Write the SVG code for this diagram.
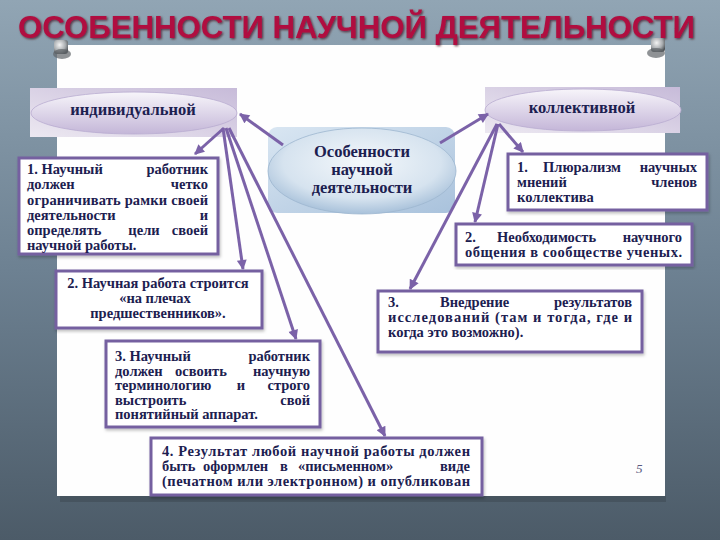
<svg xmlns="http://www.w3.org/2000/svg" width="720" height="540" viewBox="0 0 720 540">
<defs>
<linearGradient id="bg" x1="0" y1="0" x2="0" y2="1">
<stop offset="0" stop-color="#91a5b4"/>
<stop offset="0.5" stop-color="#6d8192"/>
<stop offset="1" stop-color="#4c5b68"/>
</linearGradient>
<linearGradient id="lavRect" x1="0" y1="1" x2="1" y2="0">
<stop offset="0" stop-color="#ece8f1"/>
<stop offset="1" stop-color="#c7bbd9"/>
</linearGradient>
<linearGradient id="lavEll" x1="0" y1="0" x2="0" y2="1">
<stop offset="0" stop-color="#f7f5fa"/>
<stop offset="1" stop-color="#c4b6d8"/>
</linearGradient>
<linearGradient id="blueRect" x1="0" y1="0" x2="1" y2="1">
<stop offset="0" stop-color="#d9e6f2"/>
<stop offset="1" stop-color="#a9c2dc"/>
</linearGradient>
<radialGradient id="blueEll" cx="0.5" cy="0.4" r="0.6">
<stop offset="0" stop-color="#f4f8fb"/>
<stop offset="0.7" stop-color="#d6e3ef"/>
<stop offset="1" stop-color="#a8c1da"/>
</radialGradient>
<radialGradient id="pin" cx="0.4" cy="0.35" r="0.7">
<stop offset="0" stop-color="#f4f4f4"/>
<stop offset="0.6" stop-color="#a9adb0"/>
<stop offset="1" stop-color="#4f5458"/>
</radialGradient>
<marker id="ah" viewBox="0 0 10 10" refX="9" refY="5" markerWidth="11" markerHeight="10" markerUnits="userSpaceOnUse" orient="auto">
<path d="M0,0 L10,5 L0,10 z" fill="#7b62a8"/>
</marker>
<filter id="sh" x="-5%" y="-5%" width="110%" height="115%">
<feDropShadow dx="1" dy="2" stdDeviation="1.5" flood-color="#000" flood-opacity="0.25"/>
</filter>
<filter id="tsh" x="-2%" y="-20%" width="104%" height="150%">
<feDropShadow dx="1.2" dy="1.2" stdDeviation="0.8" flood-color="#3a0612" flood-opacity="0.7"/>
</filter>
</defs>
<style>
.box{fill:#fff;stroke:#7560a0;stroke-width:3}
.bt{font-family:"Liberation Serif","Times New Roman",serif;font-size:14.5px;font-weight:bold;fill:#1c2050}
.ht{font-family:"Liberation Serif","Times New Roman",serif;font-size:16.5px;font-weight:bold;fill:#1c2050}
.con line{stroke:#7b62a8;stroke-width:3;marker-end:url(#ah)}
.e{text-anchor:end}
.m{text-anchor:middle}
</style>
<rect x="0" y="0" width="720" height="540" fill="url(#bg)"/>
<rect x="60" y="496" width="606" height="6" fill="#3f4b55" opacity="0.6"/>
<rect x="57" y="45" width="608" height="451" fill="#fefefe"/>
<g id="title">
<text x="18" y="38" font-family="Liberation Sans,Arial,sans-serif" font-size="32" font-weight="bold" fill="#b0103f" textLength="677" lengthAdjust="spacingAndGlyphs" filter="url(#tsh)">ОСОБЕННОСТИ НАУЧНОЙ ДЕЯТЕЛЬНОСТИ</text>
</g>
<g id="pins">
<rect x="54" y="40" width="14" height="14" rx="3" fill="url(#pin)"/>
<ellipse cx="62" cy="54" rx="9" ry="5" fill="#5f6468" opacity="0.7"/>
<rect x="651" y="38" width="14" height="14" rx="3" fill="url(#pin)"/>
<ellipse cx="656" cy="53" rx="9" ry="5" fill="#5f6468" opacity="0.7"/>
</g>
<g id="individual">
<rect x="30" y="88" width="207" height="49" fill="url(#lavRect)"/>
<ellipse cx="134" cy="113" rx="103" ry="21" fill="url(#lavEll)" stroke="#b9acd0" stroke-width="0.8"/>
<text class="ht m" x="133" y="115">индивидуальной</text>
</g>
<g id="collective">
<rect x="485" y="87" width="195" height="46" fill="url(#lavRect)"/>
<ellipse cx="583" cy="110" rx="98" ry="21" fill="url(#lavEll)" stroke="#b9acd0" stroke-width="0.8"/>
<text class="ht m" x="582" y="113">коллективной</text>
</g>
<g id="center">
<rect x="268" y="127" width="187" height="86" rx="9" fill="url(#blueRect)"/>
<ellipse cx="362" cy="171" rx="94" ry="43" fill="url(#blueEll)" stroke="#9db6cf" stroke-width="0.8"/>
<text class="ht m" x="362" y="157">Особенности</text>
<text class="ht m" x="362" y="175">научной</text>
<text class="ht m" x="362" y="193">деятельности</text>
</g>
<g id="l1" filter="url(#sh)">
<rect class="box" x="19" y="158" width="199" height="96"/>
</g>
<g id="l1t">
<text class="bt"><tspan x="27" y="174">1. Научный</tspan><tspan class="e" x="208" y="174">работник</tspan></text>
<text class="bt"><tspan x="27" y="189">должен</tspan><tspan class="e" x="208" y="189">четко</tspan></text>
<text class="bt" x="27" y="204.5" textLength="181" lengthAdjust="spacing">ограничивать рамки своей</text>
<text class="bt"><tspan x="27" y="220">деятельности</tspan><tspan class="e" x="208" y="220">и</tspan></text>
<text class="bt"><tspan x="27" y="235">определять</tspan><tspan class="m" x="144" y="235">цели</tspan><tspan class="e" x="208" y="235">своей</tspan></text>
<text class="bt" x="27" y="250">научной работы.</text>
</g>
<g id="l2" filter="url(#sh)">
<rect class="box" x="56" y="271" width="206" height="57"/>
</g>
<g id="l2t">
<text class="bt m" x="158" y="288">2. Научная работа строится</text>
<text class="bt m" x="155" y="303">«на плечах</text>
<text class="bt m" x="158" y="318">предшественников».</text>
</g>
<g id="l3" filter="url(#sh)">
<rect class="box" x="106" y="341" width="214" height="86"/>
</g>
<g id="l3t">
<text class="bt"><tspan x="115" y="361">3. Научный</tspan><tspan class="e" x="310" y="361">работник</tspan></text>
<text class="bt"><tspan x="115" y="375.5">должен</tspan><tspan class="m" x="201" y="375.5">освоить</tspan><tspan class="e" x="310" y="375.5">научную</tspan></text>
<text class="bt"><tspan x="115" y="390">терминологию</tspan><tspan class="m" x="241" y="390">и</tspan><tspan class="e" x="310" y="390">строго</tspan></text>
<text class="bt"><tspan x="115" y="404.5">выстроить</tspan><tspan class="e" x="310" y="404.5">свой</tspan></text>
<text class="bt" x="115" y="419">понятийный аппарат.</text>
</g>
<g id="l4" filter="url(#sh)">
<rect class="box" x="151" y="438" width="331" height="57"/>
</g>
<g id="l4t">
<text class="bt" x="162" y="456" textLength="308" lengthAdjust="spacing">4. Результат любой научной работы должен</text>
<text class="bt"><tspan x="162" y="471">быть</tspan><tspan x="203" y="471">оформлен</tspan><tspan class="m" x="284" y="471">в</tspan><tspan x="298" y="471">«письменном»</tspan><tspan class="e" x="470" y="471">виде</tspan></text>
<text class="bt" x="162" y="486" textLength="308" lengthAdjust="spacing">(печатном или электронном) и опубликован</text>
</g>
<g id="r1" filter="url(#sh)">
<rect class="box" x="508" y="154" width="199" height="56"/>
</g>
<g id="r1t">
<text class="bt"><tspan x="517" y="172">1.</tspan><tspan x="543" y="172">Плюрализм</tspan><tspan class="e" x="697" y="172">научных</tspan></text>
<text class="bt"><tspan x="517" y="187">мнений</tspan><tspan class="e" x="697" y="187">членов</tspan></text>
<text class="bt" x="517" y="201.5">коллектива</text>
</g>
<g id="r2" filter="url(#sh)">
<rect class="box" x="456" y="224" width="236" height="41"/>
</g>
<g id="r2t">
<text class="bt"><tspan x="465" y="242">2.</tspan><tspan x="497" y="242">Необходимость</tspan><tspan class="e" x="682" y="242">научного</tspan></text>
<text class="bt" x="465" y="257" textLength="217" lengthAdjust="spacing">общения в сообществе ученых.</text>
</g>
<g id="r3" filter="url(#sh)">
<rect class="box" x="378" y="291" width="264" height="61"/>
</g>
<g id="r3t">
<text class="bt"><tspan x="388" y="307">3.</tspan><tspan x="440" y="307">Внедрение</tspan><tspan class="e" x="632" y="307">результатов</tspan></text>
<text class="bt" x="388" y="322" textLength="244" lengthAdjust="spacing">исследований (там и тогда, где и</text>
<text class="bt" x="388" y="337">когда это возможно).</text>
</g>
<g id="page">
<text x="636" y="473" font-family="Liberation Serif,serif" font-style="italic" font-size="13" fill="#5a5a80">5</text>
</g>
<g id="connectors" class="con">
<line x1="283" y1="145" x2="240" y2="114"/>
<line x1="440" y1="143" x2="488" y2="114"/>
<line x1="224" y1="128" x2="195" y2="154"/>
<line x1="223" y1="128" x2="243" y2="269"/>
<line x1="226" y1="128" x2="296" y2="339"/>
<line x1="229" y1="128" x2="385" y2="436"/>
<line x1="499" y1="124" x2="523" y2="152"/>
<line x1="498" y1="124" x2="475" y2="222"/>
<line x1="497" y1="124" x2="410" y2="289"/>
</g>
</svg>
